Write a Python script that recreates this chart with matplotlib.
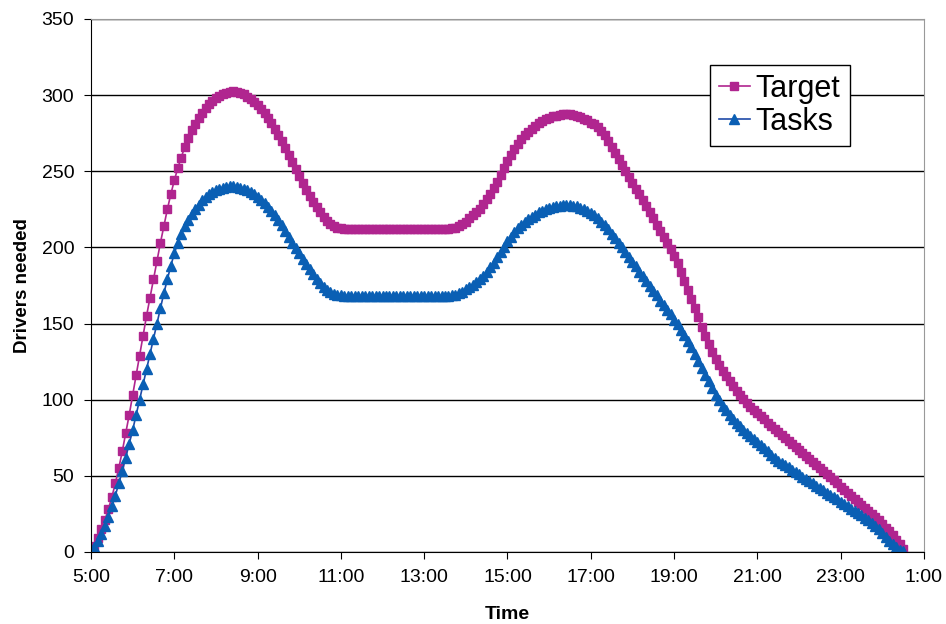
import matplotlib.pyplot as plt
import numpy as np

plt.rcParams['font.family'] = ['Liberation Sans', 'DejaVu Sans']

# ---------------------------------------------------
# DATA (one value every 5 minutes, from 5:00)
# ---------------------------------------------------

tick_labels = ["5:00", "7:00", "9:00", "11:00", "13:00", "15:00",
               "17:00", "19:00", "21:00", "23:00", "1:00"]

tasks = (
    [0, 3, 7, 12, 17, 23, 30, 37, 45, 53, 62, 71]
    + [80, 90, 100, 110, 120, 130, 140, 150, 160, 170, 179, 188]
    + [196, 203, 209, 214, 218, 222, 225, 228, 231, 233, 235, 236.5]
    + [237.5, 238.5, 239.2, 239.7, 240, 240, 239.7, 239.2, 238.5, 237.5, 236.3, 234.8]
    + [233, 231, 229, 226.5, 224, 221, 218, 214.5, 211, 207, 203, 199.5]
    + [196, 192.5, 189, 185.5, 182.5, 179, 176.5, 174, 172, 170.5, 169.5, 169]
    + [168.5] + [168] * 11
    + [168] * 12
    + [168] * 8 + [168.5, 169, 170, 171]
    + [172.5, 174, 175.5, 177, 179, 181.5, 184, 187, 190, 193.5, 197, 200.5]
    + [204, 207, 210, 212.5, 214.5, 216.5, 218.5, 220, 221.5, 223, 224, 225]
    + [226, 226.5, 227, 227.5, 228, 228, 228, 227.5, 227, 226, 225, 224]
    + [222.5, 221, 219, 217, 214.5, 212, 209, 206, 203, 200, 197, 193.5]
    + [190.5, 187.5, 184, 181, 178, 174.5, 171.5, 168.5, 165, 162, 159, 156]
    + [152.5, 149.5, 146, 142.5, 138.5, 134.5, 130, 125.5, 121, 116.5, 112, 107.5]
    + [103, 99.5, 96, 93, 90, 87.5, 85, 82.5, 80, 78, 76, 74]
    + [72, 70, 68, 66, 64, 62, 60, 58.5, 57, 55.5, 54, 52.5]
    + [51, 49.5, 48, 46.5, 45, 43.5, 42, 40.5, 39, 37.5, 36, 34.5]
    + [33, 31.5, 30, 28.5, 27, 25.5, 24, 22.5, 21, 19, 17, 15]
    + [12.5, 10, 7.5, 5, 3, 1.5, 0.5]
)

target = (
    [0, 4, 9, 15, 21, 28, 36, 45, 55, 66, 78, 90]
    + [103, 116, 129, 142, 155, 167, 179, 191, 203, 214, 225, 235]
    + [244, 252, 259, 266, 272, 277, 281, 285, 288.5, 291.5, 294, 296]
    + [298, 299.5, 300.5, 301.5, 302, 302.5, 302, 301.5, 300.5, 299, 297.5, 295.5]
    + [293.5, 291, 288, 285, 281.5, 278, 274, 270, 265.5, 261, 256, 251.5]
    + [247, 242.5, 238, 234, 230, 226.5, 223, 220, 217.5, 215.5, 214, 213]
    + [212.5] + [212] * 11
    + [212] * 12
    + [212] * 8 + [212.5, 213, 214, 215.5]
    + [217, 219, 221, 223, 225.5, 228.5, 231.5, 235, 239, 243, 247.5, 252]
    + [256.5, 260.5, 264.5, 268, 271, 273.5, 276, 278, 280, 281.5, 283, 284]
    + [285, 286, 286.5, 287, 287.5, 287.5, 287.5, 287, 286.5, 285.5, 284.5, 283.5]
    + [282, 281, 279, 276.5, 273.5, 270, 266, 262, 258, 254, 250, 246]
    + [242, 238.5, 235, 231, 227, 223, 219, 215, 211, 207, 203, 199]
    + [194.5, 189.5, 184, 178, 172, 166, 160, 154, 148, 142, 136.5, 131.5]
    + [127, 123, 119, 115.5, 112, 109, 106, 103, 100.5, 98, 95.5, 93]
    + [91, 89, 87, 85, 83, 81, 79, 77, 75, 73, 71, 69]
    + [67, 65, 63, 61, 59, 57, 55, 53, 51, 49, 47, 45]
    + [43, 41, 39, 37, 35, 33, 31, 29, 27, 25, 23, 21]
    + [18.5, 16, 13.5, 11, 8, 5, 2]
)

times = 5 + np.arange(len(tasks)) * 5 / 60

# ---------------------------------------------------
# PLOT
# ---------------------------------------------------

fig = plt.figure(figsize=(9.46, 6.24), dpi=100)
ax = fig.add_axes([0.0962, 0.1154, 0.8805, 0.8542])

ax.plot(times, target, color="#B0258F", lw=1.2, marker="s", ms=5.5,
        mfc="#B0258F", mec="#B0258F", label="Target")
ax.plot(times, tasks, color="#1F4AA8", lw=1.2, marker="^", ms=6.5,
        mfc="#0A5FB4", mec="#0A5FB4", label="Tasks")

ax.set_xlim(5, 25)
ax.set_ylim(0, 350)
ax.set_xticks(np.arange(5, 26, 2))
ax.set_xticklabels(tick_labels)
ax.set_yticks(range(0, 351, 50))

ax.set_axisbelow(True)
ax.grid(axis="y", color="black", lw=1)
ax.spines["top"].set_color("#999999")
ax.spines["right"].set_color("#999999")
ax.tick_params(labelsize=14, length=5, direction="out", color="black", pad=7)

ax.set_xlabel("Time", fontsize=14, fontweight="bold", labelpad=15)
ax.set_ylabel("Drivers needed", fontsize=13.5, fontweight="bold", labelpad=8)

ax.legend(loc="upper left", bbox_to_anchor=(0.743, 0.9137), fontsize=22,
          frameon=True, fancybox=False, edgecolor="black", framealpha=1,
          handlelength=1.0, handletextpad=0.2, borderpad=0.3,
          labelspacing=0.1, borderaxespad=0)

plt.savefig("out.png", dpi=100)
plt.close(fig)
